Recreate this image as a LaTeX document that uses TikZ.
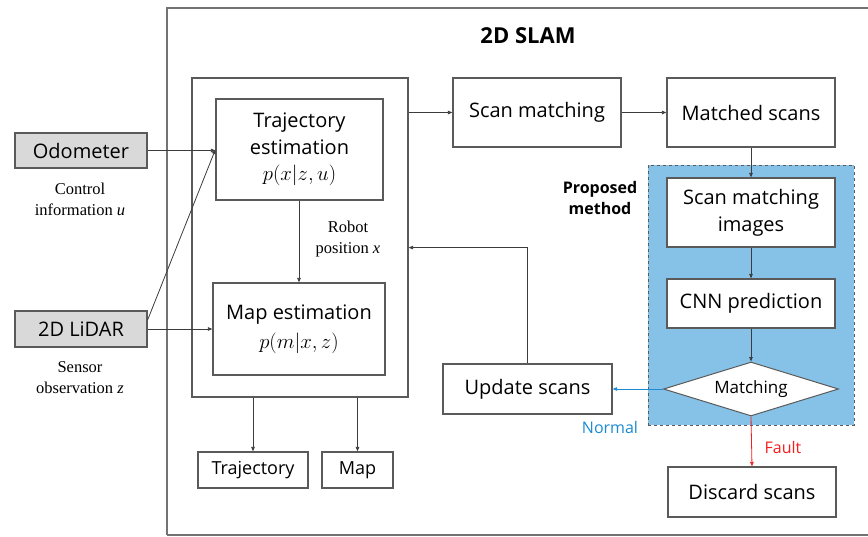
\documentclass[tikz,border=0pt]{standalone}
\usepackage{fontspec}
\usetikzlibrary{arrows.meta,shapes.geometric}
\newfontfamily\sansx{Open Sans}
\newfontfamily\serifx{Liberation Serif}
\definecolor{boxline}{HTML}{5A5A5A}
\definecolor{arrline}{HTML}{3C3C3C}
\definecolor{inputfill}{HTML}{D9D9D9}
\definecolor{propfill}{HTML}{86C1E7}
\definecolor{normalblue}{HTML}{1B8AD3}
\definecolor{faultred}{HTML}{F41E1E}
\tikzset{
  blk/.style={draw=boxline, line width=1.2pt, fill=white, inner sep=0pt, align=center,
    font=\sansx\fontsize{20}{27}\selectfont},
  inputblk/.style={blk, fill=inputfill},
  arr/.style={draw=arrline, line width=0.8pt, -{Triangle[length=4.5pt,width=3.5pt]}},
  serifnote/.style={align=center, font=\serifx\fontsize{16.5}{21}\selectfont},
}
\begin{document}
\begin{tikzpicture}[x=1pt,y=-1pt]
\useasboundingbox (0,0) rectangle (868,536);

% frame of the whole SLAM system (right side runs off the page)
\draw[draw=boxline!85, line width=2pt] (167,535) -- (167,8) -- (880,8);
\draw[draw=boxline!85, line width=2pt] (167,535) -- (880,535);
\node[font=\sansx\bfseries\fontsize{22}{26}\selectfont] (title) at (528,36) {2D SLAM};

% shaded region of the proposed method
\node[draw=boxline, dashed, line width=0.9pt, fill=propfill, minimum width=206pt,
  minimum height=260pt, inner sep=0pt] (prop) at (751,295) {};
\node[align=center, font=\sansx\bfseries\fontsize{16}{21}\selectfont] (proplbl) at (600,198) {Proposed\\method};

% sensors
\node[inputblk, minimum width=132pt, minimum height=35pt] (odo) at (81,150.5) {Odometer};
\node[inputblk, minimum width=132pt, minimum height=36pt] (lidar) at (81,329) {2D LiDAR};
\node[serifnote] (ctrl) at (80,199) {Control\\information \textit{u}};
\node[serifnote] (obs) at (80,378) {Sensor\\observation \textit{z}};

% SLAM estimation block
\node[draw=boxline, line width=1.2pt, minimum width=216pt, minimum height=319pt, inner sep=0pt] (inner) at (300,237.5) {};
\node[blk, minimum width=167pt, minimum height=101pt] (traj) at (299.5,149.5)
  {Trajectory\\estimation\\[-1pt]$p(x|z,u)$};
\node[blk, minimum width=172pt, minimum height=92pt] (map) at (299,329)
  {Map estimation\\[2pt]$p(m|x,z)$};
\node[serifnote] (robpos) at (348,239) {Robot\\position \textit{x}};

% outputs
\node[blk, font=\sansx\fontsize{18}{22}\selectfont, minimum width=110pt, minimum height=36pt] (trajout) at (253,470) {Trajectory};
\node[blk, font=\sansx\fontsize{18}{22}\selectfont, minimum width=71pt, minimum height=36pt] (mapout) at (357.5,470) {Map};

% scan processing chain
\node[blk, minimum width=168pt, minimum height=69pt] (scan) at (537,112.5) {Scan matching};
\node[blk, minimum width=168pt, minimum height=69pt] (matched) at (751,112.5) {Matched scans};
\node[blk, minimum width=168pt, minimum height=69pt] (smi) at (751,212.5) {Scan matching\\images};
\node[blk, minimum width=168pt, minimum height=49pt] (cnn) at (751,303.5) {CNN prediction};
\node[draw=boxline, line width=1pt, fill=white, diamond, aspect=3.24, inner sep=0pt,
  minimum width=175pt, minimum height=54pt, font=\sansx\fontsize{17}{20}\selectfont] (match) at (751,389) {Matching};
\node[blk, minimum width=169pt, minimum height=50pt] (update) at (527.5,389) {Update scans};
\node[blk, minimum width=168pt, minimum height=50pt] (discard) at (752,492) {Discard scans};

\node[font=\sansx\fontsize{16}{20}\selectfont, text=normalblue] (normallbl) at (610,427) {Normal};
\node[font=\sansx\fontsize{16}{20}\selectfont, text=faultred] (faultlbl) at (783,447) {Fault};

% connectors
\draw[arr] (odo.east) -- (odo.east -| traj.west);
\draw[arr] ([yshift=9pt]lidar.east) -- (traj.west);
\draw[arr] (lidar.east) -- (lidar.east -| map.west);
\draw[arr] (traj.south -| map.north) -- (map.north);
\draw[arr] (scan.west -| inner.east) -- (scan.west);
\draw[arr] (scan.east) -- (matched.west);
\draw[arr] (matched.south) -- (smi.north);
\draw[arr] (smi.south) -- (cnn.north);
\draw[arr] (cnn.south) -- (match.north);
\draw[arr, draw=normalblue] (match.west) -- (update.east);
\draw[arr, draw=faultred] (match.south) -- (discard.north);
\draw[arr] (update.north) |- (inner.east |- smi.south);
\draw[arr] (inner.south -| trajout.north) -- (trajout.north);
\draw[arr] (inner.south -| mapout.north) -- (mapout.north);
\end{tikzpicture}
\end{document}
